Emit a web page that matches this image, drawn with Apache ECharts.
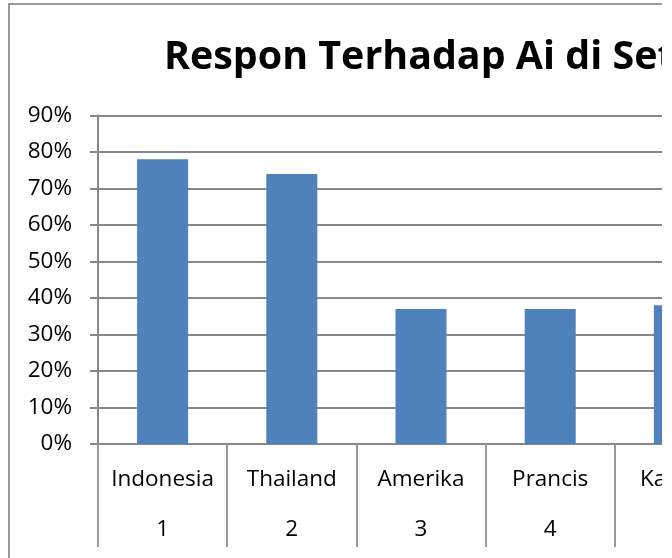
<!DOCTYPE html>
<html>
<head>
<meta charset="utf-8">
<script src="https://cdn.jsdelivr.net/npm/echarts@6/dist/echarts.min.js"></script>
<style>
  html, body { margin: 0; padding: 0; background: #fff; }
  #wrap { position: absolute; left: 0; top: 0; width: 662px; height: 558px; overflow: hidden; background: #fff; }
  #chart { position: absolute; left: 0; top: 0; width: 900px; height: 558px; }
</style>
</head>
<body>
<div id="wrap"><div id="chart"></div></div>
<script>
const titleText = 'Respon Terhadap Ai di Setiap Negara';
const categories = ['Indonesia', 'Thailand', 'Amerika', 'Prancis', 'Kanada'];
const ranks = ['1', '2', '3', '4', '5'];
const values = [0.78, 0.74, 0.37, 0.37, 0.38];
const yTicks = [0, 0.1, 0.2, 0.3, 0.4, 0.5, 0.6, 0.7, 0.8, 0.9];

const font = '"Open Sans", "Noto Sans", sans-serif';
const chart = echarts.init(document.getElementById('chart'), null, { renderer: 'canvas' });

chart.setOption({
  animation: false,
  backgroundColor: '#fff',
  title: {
    text: titleText,
    left: 159,
    top: 33,
    textStyle: { fontFamily: font, fontWeight: 'bold', fontSize: 39.4, color: '#000' }
  },
  graphic: [{
    type: 'rect',
    shape: { x: 9, y: 4, width: 2000, height: 2000 },
    style: { fill: 'none', stroke: '#999', lineWidth: 2 },
    silent: true,
    z: 100
  }],
  grid: { left: 98, top: 115.5, width: 646, height: 328.5, containLabel: false },
  xAxis: {
    type: 'category',
    data: categories,
    boundaryGap: true,
    axisLine: { show: true, lineStyle: { color: '#888', width: 2 } },
    axisTick: { show: true, interval: 0, length: 103, lineStyle: { color: '#999', width: 2 } },
    axisLabel: {
      interval: 0,
      margin: 11,
      formatter: function (v, i) { return '{n|' + v + '}\n{i|' + ranks[i] + '}'; },
      rich: {
        n: { fontFamily: font, fontSize: 22.5, color: '#000', lineHeight: 50 },
        i: { fontFamily: font, fontSize: 22.5, color: '#000', lineHeight: 50 }
      }
    },
    splitLine: { show: false }
  },
  yAxis: {
    type: 'value',
    min: yTicks[0],
    max: yTicks[yTicks.length - 1],
    interval: 0.1,
    axisLine: { show: true, lineStyle: { color: '#888', width: 2 } },
    axisTick: { show: true, inside: false, length: 8, lineStyle: { color: '#888', width: 2 } },
    axisLabel: {
      margin: 26,
      fontFamily: font, fontSize: 22.5, color: '#000',
      formatter: function (v) { return Math.round(v * 100) + '%'; }
    },
    splitLine: { show: true, lineStyle: { color: '#888', width: 2 } }
  },
  series: [{
    type: 'bar',
    data: values,
    barCategoryGap: '60.5%',
    itemStyle: { color: '#4f81bd' }
  }]
});
</script>
</body>
</html>
